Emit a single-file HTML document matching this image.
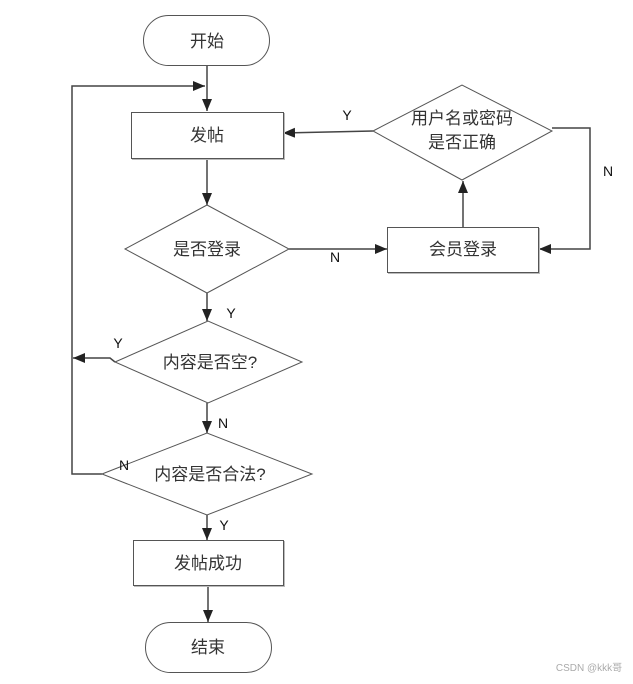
<!DOCTYPE html>
<html><head><meta charset="utf-8"><style>
html,body{margin:0;padding:0;background:#fff;}
svg text{font-family:"Liberation Sans","Noto Sans CJK SC",sans-serif;}
</style></head><body>
<svg width="633" height="679" viewBox="0 0 633 679" xmlns="http://www.w3.org/2000/svg">
<defs>
<marker id="a" markerWidth="12" markerHeight="10" refX="12" refY="5" orient="auto" markerUnits="userSpaceOnUse">
<path d="M0,0 L12,5 L0,10 z" fill="#222"/></marker>
</defs>
<g fill="none" stroke="#444" stroke-width="1.5">
<line x1="207" y1="65" x2="207" y2="111" marker-end="url(#a)"/>
<polyline points="102,474 72,474 72,86 205,86" marker-end="url(#a)"/>
<line x1="207" y1="158" x2="207" y2="205" marker-end="url(#a)"/>
<line x1="289" y1="249" x2="387" y2="249" marker-end="url(#a)"/>
<line x1="463" y1="227" x2="463" y2="181" marker-end="url(#a)"/>
<line x1="373" y1="131" x2="283" y2="133" marker-end="url(#a)"/>
<polyline points="552,128 590,128 590,249 539,249" marker-end="url(#a)"/>
<line x1="207" y1="293" x2="207" y2="321" marker-end="url(#a)"/>
<polyline points="115,362 110,358 73,358" marker-end="url(#a)"/>
<line x1="207" y1="403" x2="207" y2="433" marker-end="url(#a)"/>
<line x1="207" y1="515" x2="207" y2="540" marker-end="url(#a)"/>
<line x1="208" y1="586" x2="208" y2="622" marker-end="url(#a)"/>
</g>
<g fill="#fff" stroke="#555" stroke-width="1">
<rect x="143.5" y="15.5" width="126" height="50" rx="25"/>
<rect x="131.5" y="112.5" width="152" height="46" style="filter:drop-shadow(1px 1px 0 #bbb)"/>
<polygon points="125,249 207,205 289,249 207,293"/>
<rect x="387.5" y="227.5" width="151" height="45" style="filter:drop-shadow(1px 1px 0 #bbb)"/>
<polygon points="373,131 462,85 552,131 462,180"/>
<polygon points="115,362 208,321 302,362 208,403"/>
<polygon points="102,474 207,433 312,474 207,515"/>
<rect x="133.5" y="540.5" width="150" height="45" style="filter:drop-shadow(1px 1px 0 #bbb)"/>
<rect x="145.5" y="622.5" width="126" height="50" rx="25"/>
</g>
<g font-size="17" fill="#333" text-anchor="middle">
<text x="207" y="47">开始</text>
<text x="207" y="141">发帖</text>
<text x="207" y="255">是否登录</text>
<text x="463" y="255">会员登录</text>
<text x="462" y="124">用户名或密码</text>
<text x="462" y="148">是否正确</text>
<text x="210" y="368">内容是否空?</text>
<text x="210" y="480">内容是否合法?</text>
<text x="208" y="569">发帖成功</text>
<text x="208" y="653">结束</text>
</g>
<g font-size="14" fill="#111" text-anchor="middle">
<text x="347" y="120">Y</text>
<text x="335" y="262">N</text>
<text x="608" y="176">N</text>
<text x="231" y="318">Y</text>
<text x="118" y="348">Y</text>
<text x="223" y="428">N</text>
<text x="124" y="470">N</text>
<text x="224" y="530">Y</text>
</g>
<text x="589" y="671" font-size="10" fill="#aaa" text-anchor="middle">CSDN @kkk哥</text>
</svg>
</body></html>
